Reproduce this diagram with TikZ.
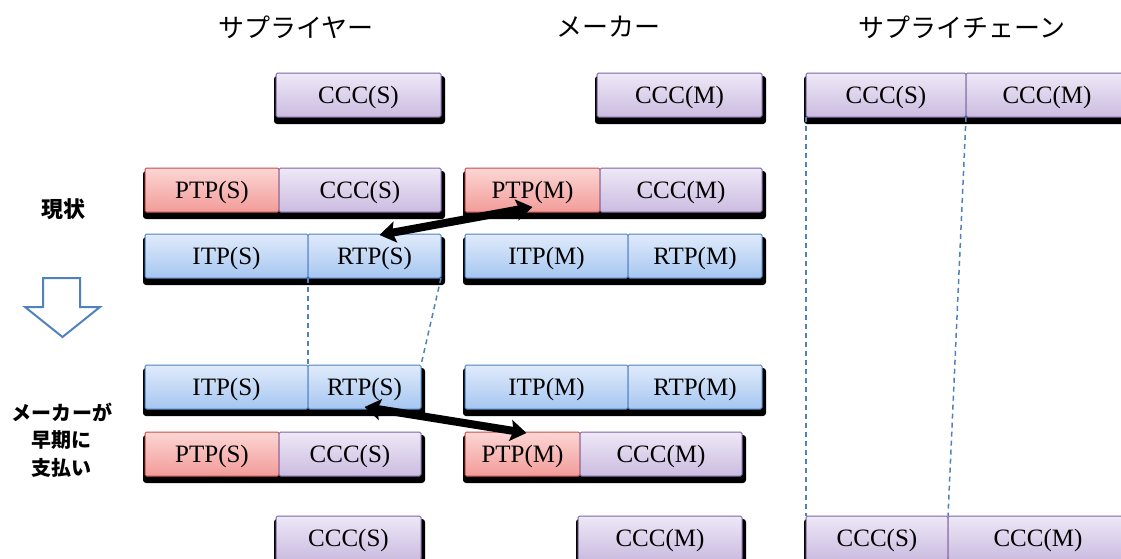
\documentclass[tikz,border=0pt]{standalone}
\usepackage{fontspec}
\setmainfont{Liberation Serif}
\newfontfamily\jp{Noto Sans CJK JP}
\usetikzlibrary{arrows.meta,backgrounds}

\definecolor{purpline}{HTML}{8064A2}
\definecolor{purptop}{HTML}{EEE8F6}
\definecolor{purpbot}{HTML}{CBBCE0}
\definecolor{redline}{HTML}{C0504D}
\definecolor{redtop}{HTML}{FCD6D4}
\definecolor{redbot}{HTML}{F29C99}
\definecolor{blueline}{HTML}{4F81BD}
\definecolor{bluetop}{HTML}{E0EBFB}
\definecolor{bluebot}{HTML}{A6C6F1}

\newcommand{\boxfont}{\fontsize{25}{30}\selectfont}
% drop shadow under a whole bar, from its first to its last segment
\newcommand{\barshadow}[2]{%
  \fill[black, rounded corners=3pt]
    ([xshift=-2pt,yshift=-3pt]#1.north west) rectangle ([xshift=4pt,yshift=-7pt]#2.south east);}

\tikzset{
  seg/.style={draw, line width=1pt, inner sep=0pt, outer sep=0pt,
    minimum height=44pt, text height=18pt, text depth=2pt,
    anchor=north west, font=\boxfont, rounded corners=1.5pt},
  ccc/.style={seg, draw=purpline, top color=purptop, bottom color=purpbot},
  ptp/.style={seg, draw=redline, top color=redtop, bottom color=redbot},
  tp/.style={seg, draw=blueline, top color=bluetop, bottom color=bluebot},
  head/.style={font=\jp\fontsize{26}{30}\selectfont},
  side/.style={font=\jp\bfseries\fontsize{20}{27.5}\selectfont, align=center},
  guide/.style={draw=blueline, line width=1.5pt, dash pattern=on 5pt off 4pt},
  swap/.style={line width=8pt, {Stealth[length=16pt,width=21pt,inset=3pt]}-{Stealth[length=16pt,width=21pt,inset=3pt]}}
}

\begin{document}
\begin{tikzpicture}[x=1pt,y=-1pt]
\useasboundingbox (0,0) rectangle (1121,558);

% column headings
\node[head] (hs) at (296,27) {サプライヤー};
\node[head] (hm) at (608,27) {メーカー};
\node[head] (hc) at (962,27) {サプライチェーン};

% row 1: cash conversion cycles
\node[ccc, minimum width=165pt] (a1) at (276,73) {CCC(S)};
\node[ccc, minimum width=165pt] (b1) at (597,73) {CCC(M)};
\node[ccc, minimum width=160pt] (c1) at (806,73) {CCC(S)};
\node[ccc, minimum width=162pt] (d1) at (966,73) {CCC(M)};

% row 2: current state, payables
\node[ptp, minimum width=134pt] (a2) at (145,168) {PTP(S)};
\node[ccc, minimum width=162pt] (a2c) at (279,168) {CCC(S)};
\node[ptp, minimum width=135pt] (b2) at (465,168) {PTP(M)};
\node[ccc, minimum width=162pt] (b2c) at (600,168) {CCC(M)};

% row 3: current state, inventory and receivables
\node[tp, minimum width=163pt] (a3) at (145,234) {ITP(S)};
\node[tp, minimum width=133pt] (a3r) at (308,234) {RTP(S)};
\node[tp, minimum width=163pt] (b3) at (465,234) {ITP(M)};
\node[tp, minimum width=134pt] (b3r) at (628,234) {RTP(M)};

% row 4: early payment, inventory and receivables
\node[tp, minimum width=163pt] (a4) at (145,365) {ITP(S)};
\node[tp, minimum width=113pt] (a4r) at (308,365) {RTP(S)};
\node[tp, minimum width=163pt] (b4) at (465,365) {ITP(M)};
\node[tp, minimum width=134pt] (b4r) at (628,365) {RTP(M)};

% row 5: early payment, payables
\node[ptp, minimum width=134pt] (a5) at (145,432) {PTP(S)};
\node[ccc, minimum width=142pt] (a5c) at (279,432) {CCC(S)};
\node[ptp, minimum width=115pt] (b5) at (465,432) {PTP(M)};
\node[ccc, minimum width=162pt] (b5c) at (580,432) {CCC(M)};

% row 6: resulting cash conversion cycles
\node[ccc, minimum width=145pt] (a6) at (276,516) {CCC(S)};
\node[ccc, minimum width=164pt] (b6) at (578,516) {CCC(M)};
\node[ccc, minimum width=142pt] (c6) at (806,516) {CCC(S)};
\node[ccc, minimum width=180pt] (d6) at (948,516) {CCC(M)};

\begin{scope}[on background layer]
  \barshadow{a1}{a1} \barshadow{b1}{b1} \barshadow{c1}{d1}
  \barshadow{a2}{a2c} \barshadow{b2}{b2c}
  \barshadow{a3}{a3r} \barshadow{b3}{b3r}
  \barshadow{a4}{a4r} \barshadow{b4}{b4r}
  \barshadow{a5}{a5c} \barshadow{b5}{b5c}
  \barshadow{a6}{a6} \barshadow{b6}{b6} \barshadow{c6}{d6}
\end{scope}

% dashed guides between the bars
\draw[guide] (a3r.south west) -- (a4r.north west);
\draw[guide] (a3r.south east) -- (a4r.north east);
\draw[guide] (c1.south west) -- (c6.north west);
\draw[guide] (d1.south west) -- (d6.north west);

% payment swaps
\coordinate (p1) at ([xshift=5pt,yshift=-1pt]a3r.north);
\coordinate (p2) at ([yshift=5pt]b2.south);
\draw[swap] (p1) -- (p2);
\coordinate (q1) at ([yshift=2pt]a4r.south);
\coordinate (q2) at ([xshift=4pt,yshift=-1pt]b5.north);
\draw[swap] (q1) -- (q2);

% left side labels and transition arrow
\node[side, font=\jp\bfseries\fontsize{22}{27}\selectfont] (now) at (63,209) {現状};
\node[side] (early) at (62,440) {メーカーが\\早期に\\支払い};
\draw[draw=blueline, fill=white, line width=2pt, line join=miter]
  (43,278) -- (80,278) -- (80,307) -- (100,307) -- (62.5,337) -- (25,307) -- (43,307) -- cycle;
\end{tikzpicture}
\end{document}
